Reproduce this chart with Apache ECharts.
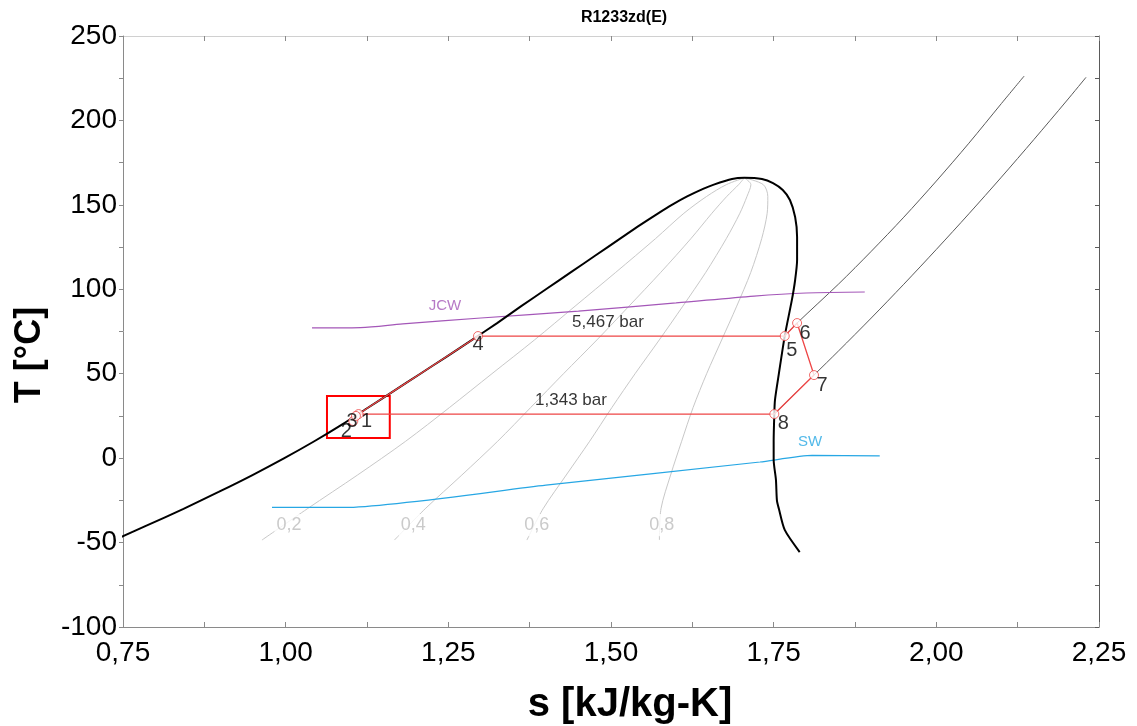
<!DOCTYPE html>
<html>
<head>
<meta charset="utf-8">
<script src="https://cdn.jsdelivr.net/npm/echarts@6/dist/echarts.min.js"></script>
<style>
  html, body { margin: 0; padding: 0; background: #fff; }
  #chart { width: 1137px; height: 726px; }
</style>
</head>
<body>
<div id="chart"></div>
<script>
// R1233zd(E) temperature-entropy diagram with an ORC cycle drawn on it.
// Points are [s in kJ/kg-K, T in °C].

// Axis ranges and tick steps
const xMin = 0.75, xMax = 2.25, xStep = 0.125, xLabelStep = 0.25;
const yMin = -100, yMax = 250, yStep = 25, yLabelStep = 50;

// Saturated liquid line (bottom to critical point)
const satLiquid = [
  [0.734, -49], [0.786, -40], [0.843, -30], [0.897, -20], [0.949, -10],
  [0.998, 0], [1.044, 10], [1.087, 20], [1.127, 30], [1.167, 40],
  [1.207, 50], [1.247, 60], [1.2865, 70], [1.325, 80], [1.362, 90],
  [1.400, 100], [1.438, 110], [1.476, 120], [1.514, 130], [1.5445, 138],
  [1.5725, 145], [1.5935, 150], [1.617, 155], [1.6415, 159.5], [1.658, 162],
  [1.686, 165.3], [1.705, 166.0]
];

// Saturated vapour line (critical point downwards)
const satVapor = [
  [1.705, 166.0], [1.732, 165.3], [1.749, 162.9], [1.764, 158.8], [1.775, 152.9],
  [1.783, 142.8], [1.786, 131.0], [1.786, 117.3], [1.783, 105.5], [1.778, 93.7],
  [1.767, 72.3], [1.758, 50], [1.752, 34.4], [1.751, 26.1], [1.750, 10],
  [1.750, -1], [1.7535, -12.9], [1.755, -25], [1.758, -30], [1.767, -42.5],
  [1.790, -55.6]
];

// Constant-quality lines inside the dome
const qualityLevels = [0.2, 0.4, 0.6, 0.8];
const quality02 = [[0.9636, -48.5], [1.0332, -30], [1.1104, -10], [1.1844, 10], [1.2518, 30], [1.317, 50], [1.3824, 70], [1.4448, 90], [1.5072, 110], [1.5684, 130], [1.612, 145], [1.647, 155], [1.6774, 162], [1.705, 166]];
const quality04 = [[1.1672, -48.5], [1.2144, -30], [1.2708, -10], [1.3258, 10], [1.3766, 30], [1.427, 50], [1.4783, 70], [1.5276, 90], [1.5764, 110], [1.6228, 130], [1.655, 145], [1.678, 155], [1.6962, 162], [1.705, 166]];
const quality06 = [[1.3708, -48.5], [1.3956, -30], [1.4312, -10], [1.4672, 10], [1.5014, 30], [1.537, 50], [1.5742, 70], [1.6104, 90], [1.6456, 110], [1.6772, 130], [1.698, 145], [1.709, 155], [1.715, 162], [1.705, 166]];
const quality08 = [[1.5744, -48.5], [1.5768, -30], [1.5916, -10], [1.6086, 10], [1.6262, 30], [1.647, 50], [1.6701, 70], [1.6932, 90], [1.7148, 110], [1.7316, 130], [1.740, 145], [1.741, 155], [1.734, 162], [1.705, 166]];
const qualityLabelAnchors = [[1.005, -39.6], [1.196, -39.6], [1.386, -39.6], [1.578, -39.6]];

// Isobars in the superheated region
const pressuresBar = [5.467, 1.343];
const isobarHigh = [[1.767, 72.3], [1.786, 80.0], [1.85, 103.2], [1.90, 122.5], [1.95, 142.7], [2.00, 164.1], [2.05, 186.5], [2.10, 210.0], [2.135, 226.3]];
const isobarLow = [[1.751, 26.1], [1.812, 49.2], [1.85, 63.6], [1.90, 83.0], [1.95, 103.0], [2.00, 123.6], [2.05, 144.7], [2.10, 166.4], [2.15, 188.7], [2.20, 211.5], [2.23, 225.5]];
const pressureLabelAnchors = [[1.4954, 80.6], [1.4385, 34.4]];

// Heat source (jacket cooling water) and sink (sea water) temperature profiles
const jcwLine = [[1.0405, 77.1], [1.115, 77.3], [1.18, 79.5], [1.30, 83.0], [1.45, 87.1], [1.60, 91.9], [1.72, 96.0], [1.80, 97.8], [1.89, 98.4]];
const swLine = [[0.979, -29.2], [1.091, -29.2], [1.40, -16.0], [1.729, -2.3], [1.809, 1.6], [1.913, 1.3]];
const jcwLabelAnchor = [1.2448, 90.1];
const swLabelAnchor = [1.8058, 9.6];

// Cycle state points
const stateNames = ['1', '2', '3', '4', '5', '6', '7', '8'];
const stateS = [1.112, 1.104, 1.108, 1.2956, 1.767, 1.786, 1.812, 1.751];
const stateT = [26.1, 22.0, 25.0, 72.3, 72.3, 80.0, 49.2, 26.1];

// Zoom box around the pump states
const highlightBox = [[1.0635, 36.8], [1.160, 11.9]];

// ---- styling ----
const stateLabelOffsets = [[8, 7], [-7, 10], [-4, 6], [0, 8], [7, 14], [8, 10], [8, 10], [9, 9]];
const FONT = '"Liberation Sans", Arial, sans-serif';
const CYCLE_RED = '#ee4646';

const comma = (v, d) => v.toFixed(d).replace('.', ',');
const st = i => [stateS[i], stateT[i]];

// cycle path: 8 -> 1 -> 2 -> 3 -> along saturated liquid -> 4 -> 5 -> 6 -> 7 -> 8
const liquidRun = satLiquid.filter(p => p[1] > stateT[2] + 1 && p[1] < stateT[3] - 1);
const cyclePath = [st(7), st(0), st(1), st(2), ...liquidRun, st(3), st(4), st(5), st(6), st(7)];

const dome = satLiquid.concat(satVapor.slice(1));
const qualityLines = [quality02, quality04, quality06, quality08];

function textSeries(name, points, texts, style) {
  return {
    name, type: 'scatter', symbolSize: 1, silent: true, z: 6,
    itemStyle: { color: 'rgba(0,0,0,0)' },
    data: points.map((p, i) => ({ value: p, name: texts[i] })),
    label: Object.assign({ show: true, position: 'inside', formatter: '{b}', fontFamily: FONT }, style)
  };
}

const chart = echarts.init(document.getElementById('chart'), null, { renderer: 'canvas' });

const series = [];

qualityLines.forEach((q, i) => {
  series.push({
    name: 'x=' + qualityLevels[i], type: 'line', data: q, showSymbol: false, smooth: 0.3,
    lineStyle: { color: '#c8c8c8', width: 1 }, z: 1, silent: true
  });
});

series.push({
  name: 'isobarHigh', type: 'line', data: isobarHigh, showSymbol: false, smooth: 0.3,
  lineStyle: { color: '#5a5a5a', width: 1 }, z: 2, silent: true
});
series.push({
  name: 'isobarLow', type: 'line', data: isobarLow, showSymbol: false, smooth: 0.3,
  lineStyle: { color: '#5a5a5a', width: 1 }, z: 2, silent: true
});

series.push({
  name: 'JCW', type: 'line', data: jcwLine, showSymbol: false, smooth: 0.3,
  lineStyle: { color: '#a457b8', width: 1.2 }, z: 2, silent: true
});
series.push({
  name: 'SW', type: 'line', data: swLine, showSymbol: false, smooth: 0.2,
  lineStyle: { color: '#27a7e4', width: 1.2 }, z: 2, silent: true
});

series.push({
  name: 'saturation', type: 'line', data: dome, showSymbol: false, smooth: 0.25, clip: false,
  lineStyle: { color: '#000', width: 2 }, z: 3, silent: true,
  markArea: {
    silent: true,
    itemStyle: { color: 'rgba(0,0,0,0)', borderColor: '#ff0000', borderWidth: 2 },
    data: [[{ coord: highlightBox[0] }, { coord: highlightBox[1] }]]
  }
});

series.push({
  name: 'cycle', type: 'line', data: cyclePath, showSymbol: false,
  lineStyle: { color: CYCLE_RED, width: 1.3 }, z: 4, silent: true
});

series.push({
  name: 'states', type: 'scatter', z: 5, silent: true,
  symbol: 'circle', symbolSize: 9,
  itemStyle: { color: '#fff', borderColor: CYCLE_RED, borderWidth: 1 },
  data: stateNames.map((n, i) => ({
    value: st(i), name: n,
    label: { offset: stateLabelOffsets[i] }
  })),
  label: { show: true, position: 'inside', formatter: '{b}', color: '#000', fontSize: 20, fontFamily: FONT }
});

series.push(textSeries('qualityLabels', qualityLabelAnchors,
  qualityLevels.map(q => comma(q, 1)),
  { color: '#bdbdbd', fontSize: 18, backgroundColor: '#fff', padding: [2, 2] }));

series.push(textSeries('pressureLabels', pressureLabelAnchors,
  pressuresBar.map(p => comma(p, 3) + ' bar'),
  { color: '#000', fontSize: 17 }));

series.push(textSeries('fluidLabels', [jcwLabelAnchor, swLabelAnchor], ['JCW', 'SW'], { fontSize: 15 }));
series[series.length - 1].data[0].label = { color: '#a457b8' };
series[series.length - 1].data[1].label = { color: '#27a7e4' };

const option = {
  backgroundColor: '#fff',
  animation: false,
  grid: { left: 123, right: 38, top: 36, bottom: 99 },
  xAxis: [
    {
      type: 'value', position: 'bottom', min: xMin, max: xMax, interval: xStep,
      axisLine: { show: true, onZero: false, lineStyle: { color: '#8a8a8a', width: 1 } },
      axisTick: { show: true, inside: true, length: 5, lineStyle: { color: '#8a8a8a' } },
      splitLine: { show: false },
      axisLabel: {
        show: true, margin: 12, color: '#000', fontSize: 28, fontFamily: FONT,
        showMinLabel: true, showMaxLabel: true,
        formatter: v => (Math.round(v * 1000) % Math.round(xLabelStep * 1000) === 0 ? comma(v, 2) : '')
      }
    },
    {
      type: 'value', position: 'top', min: xMin, max: xMax, interval: xStep,
      axisLine: { show: true, onZero: false, lineStyle: { color: '#d0d0d0', width: 1 } },
      axisTick: { show: true, inside: true, length: 5, lineStyle: { color: '#8a8a8a' } },
      axisLabel: { show: false }, splitLine: { show: false }
    }
  ],
  yAxis: [
    {
      type: 'value', position: 'left', min: yMin, max: yMax, interval: yStep,
      axisLine: { show: true, onZero: false, lineStyle: { color: '#8a8a8a', width: 1 } },
      axisTick: { show: true, inside: false, length: 4, lineStyle: { color: '#8a8a8a' } },
      splitLine: { show: false },
      axisLabel: {
        show: true, margin: 6, color: '#000', fontSize: 28, fontFamily: FONT,
        showMinLabel: true, showMaxLabel: true,
        formatter: v => (v % yLabelStep === 0 ? String(v) : '')
      }
    },
    {
      type: 'value', position: 'right', min: yMin, max: yMax, interval: yStep,
      axisLine: { show: true, onZero: false, lineStyle: { color: '#5a5a5a', width: 1 } },
      axisTick: { show: true, inside: true, length: 4, lineStyle: { color: '#5a5a5a' } },
      axisLabel: { show: false }, splitLine: { show: false }
    }
  ],
  graphic: [
    {
      type: 'text', x: 624, y: 18, silent: true,
      style: { text: 'R1233zd(E)', font: 'bold 16px ' + FONT, fill: '#000', align: 'center', verticalAlign: 'middle' }
    },
    {
      type: 'text', x: 630, y: 705, silent: true,
      style: { text: 's [kJ/kg-K]', font: 'bold 40px ' + FONT, fill: '#000', align: 'center', verticalAlign: 'middle' }
    },
    {
      type: 'text', x: 30, y: 355, rotation: Math.PI / 2, silent: true,
      style: { text: 'T [°C]', font: 'bold 36px ' + FONT, fill: '#000', align: 'center', verticalAlign: 'middle' }
    }
  ],
  series
};

chart.setOption(option);
</script>
</body>
</html>
